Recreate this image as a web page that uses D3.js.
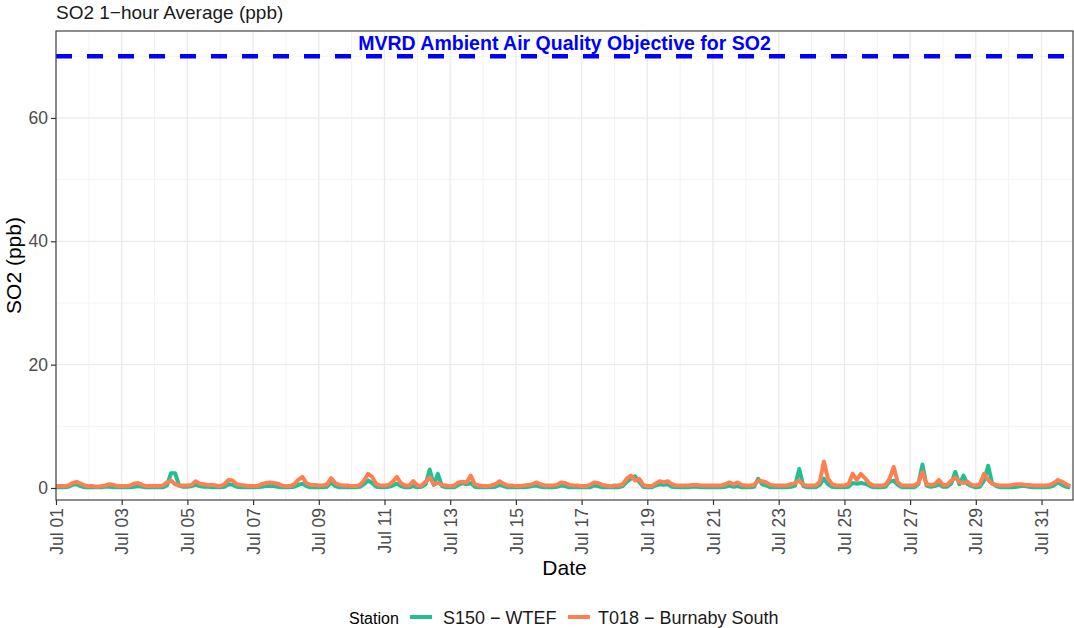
<script src="https://d3js.org/d3.v7.min.js"></script>
<style>
    body { margin: 0; background: #fff; }
    text { font-family: "Liberation Sans", Arial, sans-serif; }
</style>

<svg id="main_canvas" width=1074 height=628></svg>

<script>
    const CANVAS_WIDTH = 1074;
    const CANVAS_HEIGHT = 628;

    // panel edges
    const margins = { left: 56, right: 1, top: 31, bottom: 128 };

    // 3-hourly readings (00,03,...,21h) for each day Jul 01..Jul 31
    const hours = [0, 3, 6, 9, 12, 15, 18, 21];

    const s150 = [
        [0.1, 0.1, 0.1, 0.2, 0.5, 0.6, 0.3, 0.1], // 01
        [0.1, 0.1, 0.1, 0.1, 0.2, 0.2, 0.1, 0.1],
        [0.1, 0.1, 0.1, 0.2, 0.3, 0.2, 0.1, 0.1],
        [0.1, 0.1, 0.1, 0.4, 2.4, 2.4, 0.4, 0.2],
        [0.2, 0.3, 0.5, 0.3, 0.2, 0.2, 0.1, 0.1], // 05
        [0.1, 0.2, 0.6, 0.5, 0.2, 0.1, 0.1, 0.1],
        [0.1, 0.1, 0.2, 0.3, 0.3, 0.3, 0.2, 0.1],
        [0.1, 0.1, 0.2, 0.5, 0.7, 0.3, 0.1, 0.1],
        [0.1, 0.1, 0.2, 0.9, 0.3, 0.1, 0.1, 0.1],
        [0.1, 0.1, 0.2, 0.6, 1.2, 0.8, 0.2, 0.1], // 10
        [0.1, 0.2, 0.4, 0.7, 0.3, 0.1, 0.1, 0.3],
        [0.1, 0.2, 0.6, 3.0, 0.5, 2.3, 0.3, 0.1],
        [0.1, 0.1, 0.5, 0.8, 0.6, 0.8, 0.2, 0.1],
        [0.1, 0.1, 0.1, 0.2, 0.5, 0.3, 0.1, 0.1],
        [0.1, 0.1, 0.1, 0.2, 0.3, 0.4, 0.2, 0.1], // 15
        [0.1, 0.1, 0.2, 0.4, 0.3, 0.1, 0.1, 0.1],
        [0.1, 0.1, 0.1, 0.4, 0.3, 0.1, 0.1, 0.1],
        [0.1, 0.1, 0.3, 1.0, 1.5, 1.9, 1.0, 0.2],
        [0.1, 0.1, 0.4, 0.6, 0.5, 0.6, 0.2, 0.1],
        [0.1, 0.1, 0.1, 0.2, 0.2, 0.1, 0.1, 0.1], // 20
        [0.1, 0.1, 0.1, 0.2, 0.4, 0.2, 0.3, 0.1],
        [0.1, 0.1, 0.2, 1.5, 0.6, 0.4, 0.1, 0.1],
        [0.1, 0.1, 0.1, 0.2, 0.4, 3.1, 0.3, 0.1],
        [0.1, 0.1, 0.5, 1.5, 0.6, 0.2, 0.1, 0.1],
        [0.1, 0.2, 0.8, 0.7, 0.8, 0.7, 0.4, 0.1], // 25
        [0.1, 0.1, 0.2, 1.0, 1.2, 0.5, 0.1, 0.1],
        [0.1, 0.1, 0.6, 3.8, 0.4, 0.2, 0.3, 0.6],
        [0.2, 0.2, 0.7, 2.6, 0.6, 2.0, 0.6, 0.3],
        [0.1, 0.2, 1.2, 3.6, 0.7, 0.3, 0.1, 0.1],
        [0.1, 0.1, 0.2, 0.3, 0.3, 0.2, 0.1, 0.1], // 30
        [0.1, 0.1, 0.2, 0.4, 0.9, 0.5, 0.2, 0.1]
    ];

    const t018 = [
        [0.3, 0.3, 0.3, 0.4, 0.8, 1.0, 0.7, 0.4], // 01
        [0.3, 0.3, 0.2, 0.3, 0.4, 0.6, 0.5, 0.3],
        [0.3, 0.3, 0.4, 0.7, 0.8, 0.5, 0.3, 0.3],
        [0.3, 0.3, 0.4, 0.9, 1.2, 0.6, 0.4, 0.4],
        [0.4, 0.5, 1.1, 0.7, 0.6, 0.5, 0.5, 0.4], // 05
        [0.3, 0.6, 1.3, 1.2, 0.6, 0.5, 0.4, 0.3],
        [0.3, 0.3, 0.6, 0.8, 0.9, 0.8, 0.7, 0.4],
        [0.3, 0.3, 0.6, 1.3, 1.8, 0.8, 0.5, 0.5],
        [0.4, 0.4, 0.6, 1.6, 0.8, 0.5, 0.4, 0.4],
        [0.3, 0.3, 0.5, 1.2, 2.3, 1.8, 0.6, 0.4], // 10
        [0.4, 0.5, 1.0, 1.8, 0.8, 0.4, 0.4, 1.1],
        [0.4, 0.4, 1.0, 1.7, 0.6, 0.8, 0.5, 0.4],
        [0.3, 0.4, 0.9, 1.0, 0.9, 2.0, 0.6, 0.4],
        [0.3, 0.3, 0.4, 0.6, 1.1, 0.7, 0.4, 0.4],
        [0.3, 0.3, 0.4, 0.5, 0.6, 0.9, 0.6, 0.4], // 15
        [0.4, 0.4, 0.5, 0.9, 0.8, 0.5, 0.4, 0.4],
        [0.3, 0.3, 0.5, 0.9, 0.8, 0.5, 0.4, 0.3],
        [0.4, 0.4, 0.6, 1.5, 2.0, 1.2, 1.5, 0.5],
        [0.3, 0.3, 0.7, 1.1, 0.9, 1.1, 0.6, 0.4],
        [0.4, 0.4, 0.4, 0.5, 0.5, 0.4, 0.4, 0.4], // 20
        [0.4, 0.4, 0.4, 0.6, 0.9, 0.6, 0.9, 0.5],
        [0.4, 0.4, 0.5, 1.2, 1.1, 0.9, 0.5, 0.4],
        [0.4, 0.4, 0.4, 0.6, 0.8, 1.2, 0.5, 0.4],
        [0.4, 0.4, 1.0, 4.3, 1.5, 0.6, 0.4, 0.4],
        [0.4, 0.6, 2.3, 1.3, 2.3, 1.6, 0.8, 0.4], // 25
        [0.4, 0.4, 0.5, 1.5, 3.4, 0.9, 0.4, 0.4],
        [0.4, 0.4, 0.8, 2.6, 0.6, 0.5, 0.6, 1.3],
        [0.5, 0.5, 1.2, 1.7, 1.0, 0.8, 1.0, 0.5],
        [0.4, 0.6, 2.3, 1.3, 0.7, 0.5, 0.4, 0.4],
        [0.4, 0.5, 0.6, 0.6, 0.5, 0.5, 0.4, 0.4], // 30
        [0.4, 0.4, 0.5, 0.8, 1.3, 1.0, 0.6, 0.3]
    ];

    const stations = ["S150 \u2212 WTEF", "T018 \u2212 Burnaby South"];
    const stationColors = ["#22bf95", "#ff7f50"];
    const yTicks = [0, 20, 40, 60];
    const yMinor = [10, 30, 50, 70];
    const objective = 70;
    const objectiveLabel = "MVRD Ambient Air Quality Objective for SO2";

    const toSeries = (rows) => rows.flatMap((row, i) =>
        row.map((v, j) => ({ date: new Date(2023, 6, i + 1, hours[j]), value: v }))
    );
    const series = [toSeries(s150), toSeries(t018)];

    const svg = d3.select("#main_canvas");
    const pLeft = margins.left, pRight = CANVAS_WIDTH - margins.right;
    const pTop = margins.top, pBottom = CANVAS_HEIGHT - margins.bottom;

    const x = d3.scaleTime()
        .domain([new Date(2023, 6, 1, 0), new Date(2023, 6, 31, 23)])
        .range([pLeft, pRight]);

    const y = d3.scaleLinear()
        .domain([-1.95, 74.1])
        .range([pBottom, pTop]);

    const majorDays = d3.timeDay.range(new Date(2023, 6, 1), new Date(2023, 7, 1), 2);
    const minorDays = d3.timeDay.range(new Date(2023, 6, 2), new Date(2023, 7, 1), 2);

    // title
    svg.append("text")
        .attr("x", pLeft)
        .attr("y", 19)
        .style("font-size", "19px")
        .attr("fill", "#1a1a1a")
        .text("SO2 1\u2212hour Average (ppb)");

    // grid
    const grid = svg.append("g");
    grid.selectAll(".vminor").data(minorDays).join("line")
        .attr("x1", d => x(d)).attr("x2", d => x(d))
        .attr("y1", pTop).attr("y2", pBottom)
        .attr("stroke", "#f2f2f2").attr("stroke-width", 1);
    grid.selectAll(".hminor").data(yMinor).join("line")
        .attr("x1", pLeft).attr("x2", pRight)
        .attr("y1", d => y(d)).attr("y2", d => y(d))
        .attr("stroke", "#f2f2f2").attr("stroke-width", 1);
    grid.selectAll(".vmajor").data(majorDays).join("line")
        .attr("x1", d => x(d)).attr("x2", d => x(d))
        .attr("y1", pTop).attr("y2", pBottom)
        .attr("stroke", "#ebebeb").attr("stroke-width", 1.3);
    grid.selectAll(".hmajor").data(yTicks).join("line")
        .attr("x1", pLeft).attr("x2", pRight)
        .attr("y1", d => y(d)).attr("y2", d => y(d))
        .attr("stroke", "#ebebeb").attr("stroke-width", 1.3);

    // objective line + label
    svg.append("line")
        .attr("x1", pLeft).attr("x2", pRight)
        .attr("y1", y(objective)).attr("y2", y(objective))
        .attr("stroke", "#0000ff")
        .attr("stroke-width", 4.5)
        .attr("stroke-dasharray", "16,15");

    svg.append("text")
        .attr("x", (pLeft + pRight) / 2)
        .attr("y", 50)
        .attr("text-anchor", "middle")
        .attr("fill", "#0000ff")
        .style("font-size", "19.5px")
        .style("font-weight", "bold")
        .text(objectiveLabel);

    // lines
    const line = d3.line()
        .defined(d => d.value != null)
        .x(d => x(d.date))
        .y(d => y(d.value));

    svg.append("g")
        .selectAll("path")
        .data(series)
        .join("path")
        .attr("d", line)
        .attr("fill", "none")
        .attr("stroke", (d, i) => stationColors[i])
        .attr("stroke-width", 4)
        .attr("stroke-linejoin", "round");

    // panel border
    svg.append("rect")
        .attr("x", pLeft).attr("y", pTop)
        .attr("width", pRight - pLeft).attr("height", pBottom - pTop)
        .attr("fill", "none")
        .attr("stroke", "#444")
        .attr("stroke-width", 1.2);

    // axes
    const xAxis = svg.append("g")
        .attr("transform", `translate(0,${pBottom})`)
        .call(d3.axisBottom(x).tickValues(majorDays).tickFormat(d3.timeFormat("%b %d")).tickSize(5).tickPadding(3));
    xAxis.select(".domain").remove();
    xAxis.selectAll(".tick line").attr("stroke", "#333").attr("stroke-width", 1.2);
    xAxis.selectAll(".tick text")
        .attr("transform", "rotate(-90)")
        .attr("x", -8)
        .attr("y", 0)
        .attr("dy", "0.35em")
        .attr("text-anchor", "end")
        .attr("fill", "#4d4d4d")
        .style("font-size", "17.5px")
        .style("font-family", "Liberation Sans, Arial, sans-serif");

    const yAxis = svg.append("g")
        .attr("transform", `translate(${pLeft},0)`)
        .call(d3.axisLeft(y).tickValues(yTicks).tickSize(5).tickPadding(3));
    yAxis.select(".domain").remove();
    yAxis.selectAll(".tick line").attr("stroke", "#333").attr("stroke-width", 1.2);
    yAxis.selectAll(".tick text")
        .attr("fill", "#4d4d4d")
        .style("font-size", "17.5px")
        .style("font-family", "Liberation Sans, Arial, sans-serif");

    // axis titles
    svg.append("text")
        .attr("x", (pLeft + pRight) / 2)
        .attr("y", 575)
        .attr("text-anchor", "middle")
        .style("font-size", "21px")
        .text("Date");

    svg.append("text")
        .attr("transform", `translate(21,${(pTop + pBottom) / 2}) rotate(-90)`)
        .attr("text-anchor", "middle")
        .style("font-size", "21px")
        .text("SO2 (ppb)");

    // legend
    const legend = svg.append("g").attr("class", "legend");
    legend.append("text")
        .attr("x", 349).attr("y", 623.5)
        .style("font-size", "16px")
        .text("Station");

    const keyX = [410, 568];
    const labelX = [443, 598];
    legend.selectAll(".key")
        .data(stations)
        .join("g")
        .attr("class", "key")
        .call(g => {
            g.append("line")
                .attr("x1", (d, i) => keyX[i]).attr("x2", (d, i) => keyX[i] + 22)
                .attr("y1", 617).attr("y2", 617)
                .attr("stroke", (d, i) => stationColors[i])
                .attr("stroke-width", 4);
        })
        .call(g => {
            g.append("text")
                .attr("x", (d, i) => labelX[i]).attr("y", 623.5)
                .style("font-size", "18px")
                .attr("fill", "#1a1a1a")
                .text(d => d);
        });
</script>
